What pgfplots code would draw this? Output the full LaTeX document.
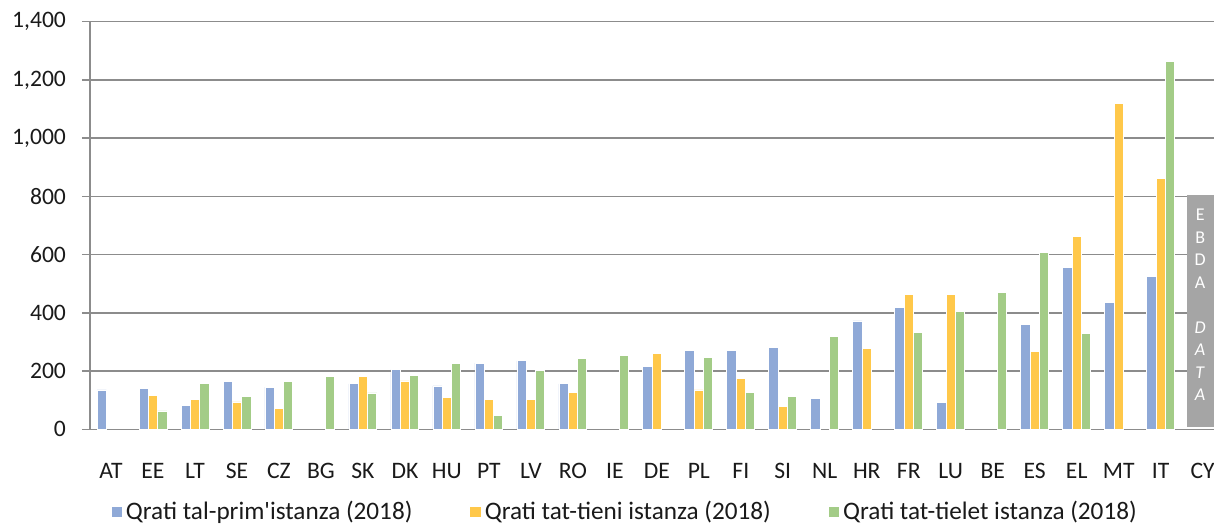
\documentclass[border=0pt]{standalone}
\usepackage{fontspec}
\setmainfont{Carlito}
\usepackage{pgfplots}
\pgfplotsset{compat=1.18}

\definecolor{cblue}{HTML}{8FA9D7}
\definecolor{cyellow}{HTML}{FFC84A}
\definecolor{cgreen}{HTML}{A3CC87}
\definecolor{gridc}{HTML}{8C8C8C}
\definecolor{boxgray}{HTML}{A5A5A5}
\definecolor{txt}{HTML}{1A1A1A}

\begin{document}
\begin{tikzpicture}
\begin{axis}[
    scale only axis, width=562pt, height=203.8pt,
    ybar=0pt, bar width=4.65pt,
    xmin=-0.5, xmax=26.27,
    ymin=0, ymax=1400,
    ytick={0,200,...,1400},
    xtick={0,...,26},
    xticklabels={AT,EE,LT,SE,CZ,BG,SK,DK,HU,PT,LV,RO,IE,DE,PL,FI,SI,NL,HR,FR,LU,BE,ES,EL,MT,IT,CY},
    minor xtick={-0.5,0.5,...,26.5},
    axis x line*=bottom, axis y line*=left,
    axis line style={gridc, line width=0.8pt},
    ymajorgrids, grid style={gridc, line width=0.8pt},
    tick align=outside, major tick length=4pt, minor tick length=3.5pt,
    xtick style={draw=none},
    minor x tick style={gridc, line width=0.8pt},
    ytick style={gridc, line width=0.8pt},
    tick label style={font=\fontsize{11.8}{14}\selectfont, text=txt},
    x tick label style={yshift=-9.5pt},
    y tick label style={xshift=-4.5pt},
    /pgf/number format/.cd, 1000 sep={,}, assume math mode=true, /pgfplots/.cd,
    legend columns=3,
    legend style={draw=none, at={(rel axis cs:0.477,-0.203)}, anchor=center,
        font=\fontsize{12.6}{15}\selectfont, text=txt,
        /tikz/every even column/.append style={column sep=27pt}},
    legend image code/.code={\fill[#1,draw=none] (0pt,-2.6pt) rectangle (5.2pt,2.6pt);},
]
\addplot[fill=cblue, draw=white, line width=0.4pt] coordinates {
    (0,135) (1,141) (2,81) (3,165) (4,145) (6,156) (7,205) (8,149) (9,227)
    (10,235) (11,156) (13,217) (14,270) (15,271) (16,280) (17,107) (18,372)
    (19,418) (20,91) (22,361) (23,557) (24,437) (25,525)};
\addlegendentry{Qrati tal-prim\textquotesingle istanza (2018)}
\addplot[fill=cyellow, draw=white, line width=0.4pt] coordinates {
    (1,117) (2,104) (3,94) (4,72) (6,183) (7,166) (8,110) (9,104) (10,102)
    (11,126) (13,260) (14,135) (15,174) (16,79) (18,277) (19,464) (20,464)
    (22,268) (23,661) (24,1120) (25,862)};
\addlegendentry{Qrati tat-tieni istanza (2018)}
\addplot[fill=cgreen, draw=white, line width=0.4pt] coordinates {
    (1,63) (2,158) (3,114) (4,165) (5,181) (6,125) (7,184) (8,227) (9,47)
    (10,203) (11,244) (12,254) (14,248) (15,128) (16,114) (17,318) (19,334)
    (20,406) (21,470) (22,607) (23,328) (25,1265)};
\addlegendentry{Qrati tat-tielet istanza (2018)}
\fill[boxgray] (axis cs:25.62,7) rectangle (axis cs:27,805);
\node[text=white, align=center, font=\fontsize{9}{11.25}\selectfont]
    at (axis cs:25.94,427) {E\\B\\D\\A\\\strut\\\textit{D}\\\textit{A}\\\textit{T}\\\textit{A}};
\end{axis}
\pgfresetboundingbox
\useasboundingbox (-45pt,-47.35pt) rectangle (562pt,214.65pt);
\end{tikzpicture}
\end{document}
